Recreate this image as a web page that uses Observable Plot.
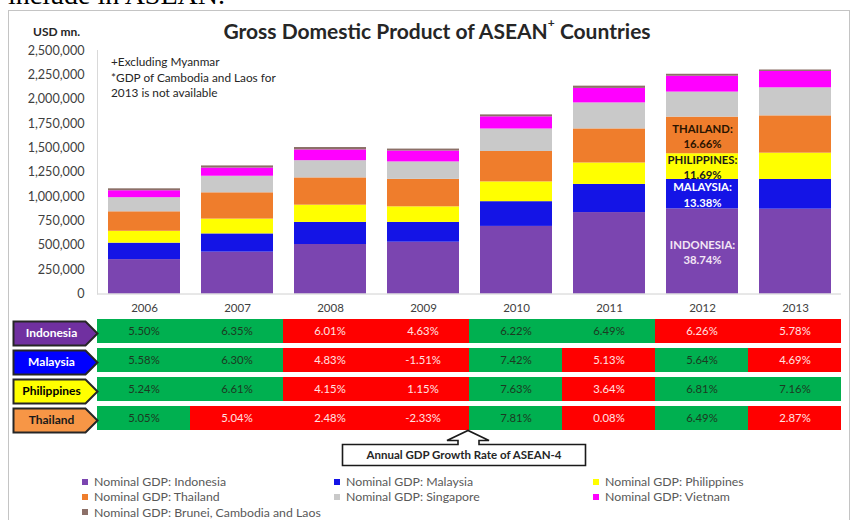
<!DOCTYPE html>
<html><head><meta charset="utf-8">
<script src="https://cdn.jsdelivr.net/npm/d3@7"></script>
<script src="https://cdn.jsdelivr.net/npm/@observablehq/plot@0.6"></script>
<style>
body{margin:0;background:#fff;font-family:Lato,"Open Sans",sans-serif;}
#wrap{position:relative;width:857px;height:520px;overflow:hidden;background:#fff;}
.abs{position:absolute;}
#title{left:0;width:874px;top:18px;text-align:center;font-weight:bold;font-size:21px;color:#262626;white-space:nowrap;}
#title sup{font-size:12px;vertical-align:top;position:relative;top:-3px;}
#unit{left:33px;top:24px;font-weight:bold;font-size:12px;color:#262626;}
#note{left:111px;top:54px;font-size:11.8px;line-height:15.7px;color:#262626;}
#legend{left:82px;top:474px;display:grid;grid-template-columns:252px 259px auto;grid-auto-rows:15.3px;font-size:12.3px;color:#595959;}
#legend .it{display:flex;align-items:center;white-space:nowrap;}
#legend .sw{width:6px;height:6px;margin-right:6px;}
</style></head><body>
<div id="wrap">
  <div class="abs" style="left:8px;top:-21px;font:28px 'Liberation Serif';color:#000;white-space:nowrap">include in ASEAN.</div>
  <div class="abs" style="left:8px;top:10px;width:840px;height:520px;border:1px solid #c4c4c4;"></div>
  <div class="abs" id="title">Gross Domestic Product of ASEAN<sup>+</sup> Countries</div>
  <div class="abs" id="unit">USD mn.</div>
  <div class="abs" id="note">+Excluding Myanmar<br>*GDP of Cambodia and Laos for<br>2013 is not available</div>
  <div class="abs" id="bars" style="left:0;top:0"></div>
  <div class="abs" id="table" style="left:0;top:300px"></div>
  <svg class="abs" style="left:0;top:0" width="857" height="520">
    <path d="M342.5,444.5 H458 V440.5 H447 L468,430.5 L489,440.5 H479 V444.5 H585.5 V465.5 H342.5 Z" fill="#fff" stroke="#1a1a1a" stroke-width="1.6"/>
    <text x="464" y="459" text-anchor="middle" font-family="Lato" font-weight="bold" font-size="11.5" fill="#262626">Annual GDP Growth Rate of ASEAN-4</text>
  </svg>
  <div class="abs" id="legend"></div>
</div>
<script>
// ---------- data ----------
const years = ["2006","2007","2008","2009","2010","2011","2012","2013"];
const seriesNames = ["Indonesia","Malaysia","Philippines","Thailand","Singapore","Vietnam","Brunei, Cambodia and Laos"];
const seriesColors = ["#7b45b0","#1414e6","#ffff00","#ef7d2c","#c9c9c9","#ff00ff","#8c7068"];
const gdpIndonesia   = [353000, 430000, 508000, 532000, 694000, 836000, 874000, 871000];
const gdpMalaysia    = [169000, 187000, 227000, 203000, 254000, 289000, 302000, 305000];
const gdpPhilippines = [122000, 152000, 177000, 160000, 203000, 220000, 264000, 270000];
const gdpThailand    = [200000, 270000, 280000, 282000, 312000, 350000, 376000, 383000];
const gdpSingapore   = [145000, 170000, 177000, 179000, 231000, 267000, 257000, 288000];
const gdpVietnam     = [ 71000,  84000, 110000, 112000, 125000, 149000, 163000, 168000];
const gdpBruneiCamLao= [ 20000,  22000,  25000,  20000,  20000,  23000,  20000,  15000];
const yTicks = [0,250000,500000,750000,1000000,1250000,1500000,1750000,2000000,2250000,2500000];

const shareYear = "2012";
const shareCountries = ["Indonesia","Malaysia","Philippines","Thailand"];
const shareValues = ["38.74%","13.38%","11.69%","16.66%"];
const shareTextColors = ["#f3e6f5","#ffffff","#1a1a1a","#2a1400"];

const growthCountries = ["Indonesia","Malaysia","Philippines","Thailand"];
const growthIndonesia   = ["5.50%","6.35%","6.01%","4.63%","6.22%","6.49%","6.26%","5.78%"];
const growthMalaysia    = ["5.58%","6.30%","4.83%","-1.51%","7.42%","5.13%","5.64%","4.69%"];
const growthPhilippines = ["5.24%","6.61%","4.15%","1.15%","7.63%","3.64%","6.81%","7.16%"];
const growthThailand    = ["5.05%","5.04%","2.48%","-2.33%","7.81%","0.08%","6.49%","2.87%"];
const flagIndonesia   = ["G","G","R","R","G","G","R","R"];
const flagMalaysia    = ["G","G","R","R","G","R","G","R"];
const flagPhilippines = ["G","G","R","R","G","R","G","G"];
const flagThailand    = ["G","R","R","R","G","R","G","R"];
const tagColors = ["#7030a0","#0000ff","#ffff00","#f79646"];
const tagTextColors = ["#ffffff","#ffffff","#000000","#1a1a1a"];

// ---------- derived tables ----------
const gdpSeries = [gdpIndonesia,gdpMalaysia,gdpPhilippines,gdpThailand,gdpSingapore,gdpVietnam,gdpBruneiCamLao];
const gdpRows = [];
years.forEach((yr,i)=>seriesNames.forEach((s,j)=>gdpRows.push({year:yr,series:s,value:gdpSeries[j][i]})));

const si = years.indexOf(shareYear);
let cum = 0;
const shareRows = shareCountries.map((c,k)=>{
  const v = gdpSeries[k][si];
  const mid = cum + v/2; cum += v;
  return {year:shareYear, mid, label: c.toUpperCase()+":\n"+shareValues[k], color: shareTextColors[k]};
});

const growthSeries = [growthIndonesia,growthMalaysia,growthPhilippines,growthThailand];
const flagSeries = [flagIndonesia,flagMalaysia,flagPhilippines,flagThailand];
const growthRows = [];
growthCountries.forEach((c,k)=>years.forEach((yr,i)=>growthRows.push({country:c,year:yr,value:growthSeries[k][i],flag:flagSeries[k][i]})));
const tagRows = growthCountries.map((c,k)=>({country:c,textColor:tagTextColors[k]}));

// ---------- bar chart ----------
const bars = Plot.plot({
  width: 857, height: 320,
  marginLeft: 97, marginRight: 16, marginTop: 50, marginBottom: 26.5,
  style: {background:"transparent", fontFamily:"Lato", fontSize:"11.5px", color:"#404040"},
  x: {type:"band", domain: years, paddingInner: 0.226, paddingOuter: 0.113, label: null},
  y: {domain:[0,2500000], label:null},
  color: {domain: seriesNames, range: seriesColors},
  marks: [
    Plot.barY(gdpRows, {x:"year", y:"value", fill:"series"}),
    Plot.ruleY([0], {stroke:"#d0d0d0"}),
    Plot.frame({anchor:"left", stroke:"#d9d9d9"}),
    Plot.axisY({ticks: yTicks, tickFormat: d3.format(","), tickSize: 0, tickPadding: 13, label: null, fill:"#404040", fontSize: 12.6}),
    Plot.axisX({tickSize: 0, tickPadding: 10, label: null, fill:"#404040", fontSize: 11.5}),
    ...shareRows.map(r=>Plot.text([r], {x:"year", y:"mid", text:"label", fill: r.color, fontWeight:"bold", fontSize: 11.3, lineHeight: 1.35}))
  ]
});
document.getElementById("bars").append(bars);

// ---------- growth table ----------
const tagSymbol = {draw(ctx){ ctx.moveTo(-84,-12); ctx.lineTo(-12,-12); ctx.lineTo(0,0); ctx.lineTo(-12,12); ctx.lineTo(-84,12); ctx.closePath(); }};
const table = Plot.plot({
  width: 857, height: 140,
  marginLeft: 97, marginRight: 16, marginTop: 18, marginBottom: 10,
  style: {background:"transparent", fontFamily:"Lato", fontSize:"11px"},
  x: {type:"band", domain: years, padding: 0, axis: null},
  y: {type:"band", domain: growthCountries, paddingInner: 0.18, paddingOuter: 0, axis: null},
  color: {domain: ["G","R",...growthCountries], range: ["#00b050","#ff0000",...tagColors]},
  marks: [
    Plot.cell(growthRows, {x:"year", y:"country", fill:"flag", inset: 0, shapeRendering:"crispEdges"}),
    Plot.text(growthRows.filter(d=>d.flag==="G"), {x:"year", y:"country", text:"value", fill:"#1c3a22", fontSize: 11.3}),
    Plot.text(growthRows.filter(d=>d.flag==="R"), {x:"year", y:"country", text:"value", fill:"#ffe2e2", fontSize: 11.3}),
    Plot.dot(tagRows, {y:"country", frameAnchor:"left", dy: 2, symbol: tagSymbol, fill:"country", fillOpacity:1, stroke:"#262626", strokeWidth: 2}),
    ...tagRows.map(r=>Plot.text([r], {y:"country", frameAnchor:"left", textAnchor:"middle", dx:-46, dy: 2, text:"country", fill:r.textColor, fontWeight:"bold", fontSize: 12}))
  ]
});
document.getElementById("table").append(table);

// ---------- legend ----------
const legend = document.getElementById("legend");
seriesNames.forEach((s,j)=>{
  const it = document.createElement("div"); it.className = "it";
  const sw = document.createElement("span"); sw.className = "sw"; sw.style.background = seriesColors[j];
  it.append(sw, document.createTextNode("Nominal GDP: "+s));
  legend.append(it);
});
</script>
</body></html>
